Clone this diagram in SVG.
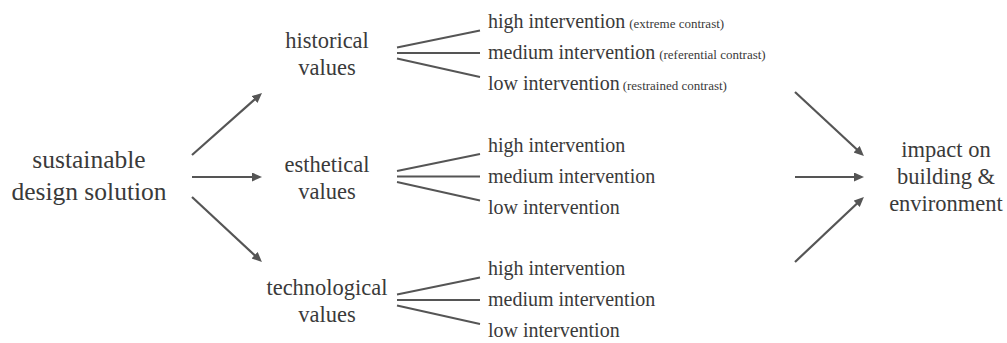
<svg xmlns="http://www.w3.org/2000/svg" width="1007" height="343" viewBox="0 0 1007 343">
<style>
text{font-family:'Liberation Serif','DejaVu Serif',serif;fill:#3a3a3a}
.big{font-size:25.5px;text-anchor:middle}
.cat{font-size:22.5px;text-anchor:middle}
.lvl{font-size:20px}
.sm{font-size:13px}
.br{stroke:#555;stroke-width:1.8;fill:none}
.ar{stroke:#555;stroke-width:2.2;fill:none;marker-end:url(#ah)}
</style>
<defs>
<marker id="ah" markerUnits="userSpaceOnUse" markerWidth="12" markerHeight="10" refX="6" refY="4.5" orient="auto">
<path d="M0,0 L10,4.5 L0,9 z" fill="#555"/>
</marker>
</defs>
<rect width="1007" height="343" fill="#fff"/>
<g id="connectors">
<line class="ar" x1="192" y1="155" x2="259" y2="95.6"/>
<line class="ar" x1="192" y1="177" x2="258" y2="177"/>
<line class="ar" x1="192" y1="197" x2="259" y2="259.3"/>
<line class="ar" x1="795" y1="92" x2="861" y2="153.3"/>
<line class="ar" x1="795" y1="177" x2="860" y2="177"/>
<line class="ar" x1="795" y1="262" x2="861" y2="199.7"/>
<g id="branches-historical">
<line class="br" x1="397" y1="47.5" x2="480" y2="30.5"/>
<line class="br" x1="397" y1="53" x2="480" y2="53"/>
<line class="br" x1="397" y1="58.5" x2="480" y2="77"/>
</g>
<g id="branches-esthetical">
<line class="br" x1="397" y1="171" x2="480" y2="154"/>
<line class="br" x1="397" y1="176.5" x2="480" y2="176.5"/>
<line class="br" x1="397" y1="182" x2="480" y2="200.5"/>
</g>
<g id="branches-technological">
<line class="br" x1="397" y1="294.5" x2="480" y2="277.5"/>
<line class="br" x1="397" y1="300" x2="480" y2="300"/>
<line class="br" x1="397" y1="305.5" x2="480" y2="324"/>
</g>
</g>
<g id="sustainable">
<text class="big" x="89" y="168" font-family="Liberation Serif, serif">sustainable</text>
<text class="big" x="89" y="200" font-family="Liberation Serif, serif">design solution</text>
</g>
<g id="historical">
<text class="cat" x="327" y="48">historical</text>
<text class="cat" x="327" y="75">values</text>
</g>
<g id="esthetical">
<text class="cat" x="327" y="172">esthetical</text>
<text class="cat" x="327" y="199">values</text>
</g>
<g id="technological">
<text class="cat" x="327" y="295">technological</text>
<text class="cat" x="327" y="322">values</text>
</g>
<g id="impact">
<text class="cat" x="946" y="157">impact on</text>
<text class="cat" x="946" y="184">building &amp;</text>
<text class="cat" x="946" y="211">environment</text>
</g>
<g id="hist-high"><text class="lvl" x="488" y="28">high intervention<tspan class="sm" dx="4">(extreme contrast)</tspan></text></g>
<g id="hist-medium"><text class="lvl" x="488" y="59">medium intervention<tspan class="sm" dx="4">(referential contrast)</tspan></text></g>
<g id="hist-low"><text class="lvl" x="488" y="90">low intervention<tspan class="sm" dx="3">(restrained contrast)</tspan></text></g>
<g id="est-high"><text class="lvl" x="488" y="151.5">high intervention</text></g>
<g id="est-medium"><text class="lvl" x="488" y="182.5">medium intervention</text></g>
<g id="est-low"><text class="lvl" x="488" y="213.5">low intervention</text></g>
<g id="tech-high"><text class="lvl" x="488" y="275">high intervention</text></g>
<g id="tech-medium"><text class="lvl" x="488" y="306">medium intervention</text></g>
<g id="tech-low"><text class="lvl" x="488" y="337">low intervention</text></g>
</svg>
